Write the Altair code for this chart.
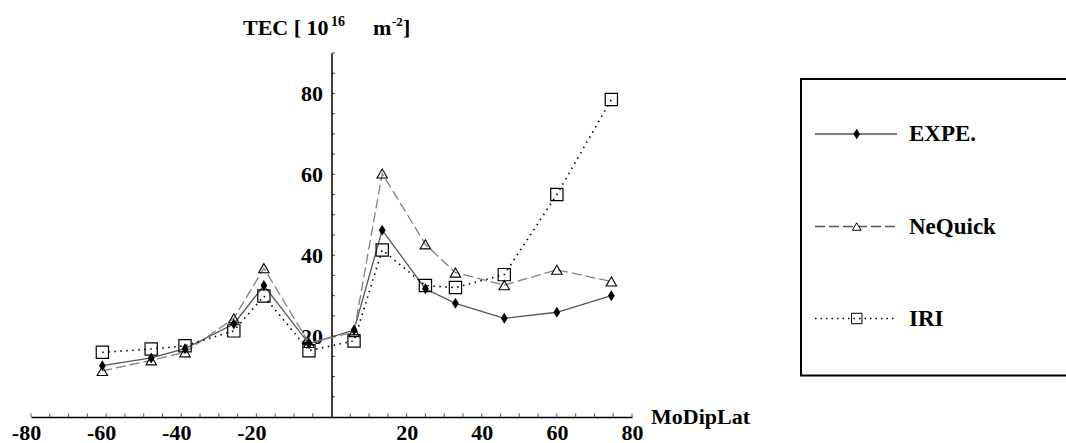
import altair as alt
import pandas as pd

# ---- data ----
modip = [-61, -48, -39, -26, -18, -6, 6, 13.5, 25, 33, 46, 60, 74.5]
expe = [12.7, 14.6, 16.9, 23.0, 32.5, 18.1, 21.5, 46.2, 31.7, 28.1, 24.4, 25.9, 30.0]
nequick = [11.4, 14.0, 16.0, 24.4, 36.8, 18.3, 21.0, 60.2, 42.7, 35.7, 32.6, 36.4, 33.5]
iri = [16.0, 16.8, 17.6, 21.3, 29.9, 16.4, 18.8, 41.3, 32.5, 32.0, 35.2, 55.0, 78.5]

x_labels = [-80, -60, -40, -20, 20, 40, 60, 80]
y_labels = [20, 40, 60, 80]
x_ticks = [v for v in range(-80, 81, 5) if v != 0]
y_ticks = list(range(5, 91, 5))

series_names = ["EXPE.", "NeQuick", "IRI"]

W, H = 601, 364
FONT = "Liberation Serif"

xs = alt.Scale(domain=[-80, 80], nice=False, zero=False)
ys = alt.Scale(domain=[0, 90], nice=False, zero=False)

df = pd.DataFrame({"x": modip, "EXPE": expe, "NeQuick": nequick, "IRI": iri})

DIAMOND = "M0,-1L0.62,0L0,1L-0.62,0Z"

base = alt.Chart(df)

xaxis = alt.Axis(values=x_labels, ticks=False, grid=False, title=None,
                 domainColor="black", domainWidth=1.5,
                 labelFont=FONT, labelFontWeight="bold", labelFontSize=22,
                 labelColor="black", labelPadding=5, labelFlush=False,
                 labelOverlap=False, labelExpr="'' + datum.value",
                 labelOffset={"expr": "datum.value < 0 ? -5 : 0"})
yaxis = alt.Axis(values=y_labels, ticks=False, grid=False, title=None,
                 orient="left", offset=-W / 2,
                 domainColor="black", domainWidth=1.5,
                 labelFont=FONT, labelFontWeight="bold", labelFontSize=22,
                 labelColor="black", labelPadding=9, labelOverlap=False)

X = lambda f: alt.X(f, scale=xs, axis=xaxis)
Y = lambda f: alt.Y(f, scale=ys, axis=yaxis)

line_expe = base.mark_line(color="#555555", strokeWidth=1.3).encode(
    x=X("x:Q"), y=Y("EXPE:Q"))
line_neq = base.mark_line(color="#808080", strokeWidth=1.3, strokeDash=[10, 4]).encode(
    x=X("x:Q"), y=Y("NeQuick:Q"))
line_iri = base.mark_line(color="black", strokeWidth=1.6, strokeDash=[1.5, 4.5]).encode(
    x=X("x:Q"), y=Y("IRI:Q"))
pt_iri = base.mark_point(shape="square", size=150, filled=False, color="black",
                         strokeWidth=1.2, opacity=1).encode(
    x=X("x:Q"), y=Y("IRI:Q"))
pt_neq = base.mark_point(shape="triangle-up", size=110, filled=False, color="black",
                         strokeWidth=1.1, opacity=1).encode(
    x=X("x:Q"), y=Y("NeQuick:Q"))
pt_expe = base.mark_point(shape=DIAMOND, size=120, filled=True, color="black",
                          opacity=1).encode(
    x=X("x:Q"), y=Y("EXPE:Q"))

# inward ticks
xt = pd.DataFrame({"v": x_ticks})
xtick = alt.Chart(xt).mark_tick(color="black", thickness=1, size=3.5, yOffset=-1.75).encode(
    x=X("v:Q"), y=alt.value(H))
yt = pd.DataFrame({"v": y_ticks})
ytick = alt.Chart(yt).mark_tick(color="black", thickness=1, size=3.5, xOffset=1.75,
                                orient="horizontal").encode(
    y=Y("v:Q"), x=alt.value(W / 2))


def txt(t, x, y, size=22, align="left", baseline="alphabetic"):
    return alt.Chart(pd.DataFrame({"t": [t]})).mark_text(
        font=FONT, fontWeight="bold", fontSize=size, color="black",
        align=align, baseline=baseline).encode(
        x=alt.value(x), y=alt.value(y), text="t:N")


titles = [
    txt("TEC [ 10", 212, -18),
    txt("16", 300, -27, size=14),
    txt("m", 342, -18),
    txt("-2", 361, -27, size=13),
    txt("]", 372, -18),
    txt("MoDipLat", 620, 371),
]

one = pd.DataFrame({"a": [0]})
box = alt.Chart(one).mark_rect(fill="white", stroke="black", strokeWidth=2).encode(
    x=alt.value(770), x2=alt.value(1045), y=alt.value(26), y2=alt.value(322.5))

leg_y = [81, 173.5, 265.5]
leg = [box]
leg.append(alt.Chart(one).mark_rule(color="#555555", strokeWidth=1.3).encode(
    x=alt.value(784), x2=alt.value(866), y=alt.value(leg_y[0])))
leg.append(alt.Chart(one).mark_rule(color="#555555", strokeWidth=1.3,
                                    strokeDash=[10, 4]).encode(
    x=alt.value(784), x2=alt.value(866), y=alt.value(leg_y[1])))
leg.append(alt.Chart(one).mark_rule(color="black", strokeWidth=1.3,
                                    strokeDash=[1.5, 4]).encode(
    x=alt.value(784), x2=alt.value(866), y=alt.value(leg_y[2])))
leg.append(alt.Chart(one).mark_point(
    shape=DIAMOND, size=110, filled=True, color="black", opacity=1).encode(
    x=alt.value(825.7), y=alt.value(leg_y[0])))
leg.append(alt.Chart(one).mark_point(
    shape="triangle-up", size=75, filled=True, fill="white", stroke="black",
    strokeWidth=1, opacity=1).encode(
    x=alt.value(825.7), y=alt.value(leg_y[1])))
leg.append(alt.Chart(one).mark_point(
    shape="square", size=110, filled=False, color="black", strokeWidth=1,
    opacity=1).encode(
    x=alt.value(825.7), y=alt.value(leg_y[2])))
for name, yy in zip(series_names, leg_y):
    leg.append(txt(name, 878, yy, size=23, baseline="middle"))

chart = alt.layer(
    line_expe, line_neq, line_iri, pt_iri, pt_neq, pt_expe, xtick, ytick,
    *titles, *leg
).properties(
    width=W, height=H,
    padding={"left": 31, "top": 53, "right": 434, "bottom": 26},
    autosize=alt.AutoSizeParams(type="none"),
    background="white",
).configure_view(stroke=None)

chart.save("out.html", embed_options={"renderer": "svg", "actions": False})
